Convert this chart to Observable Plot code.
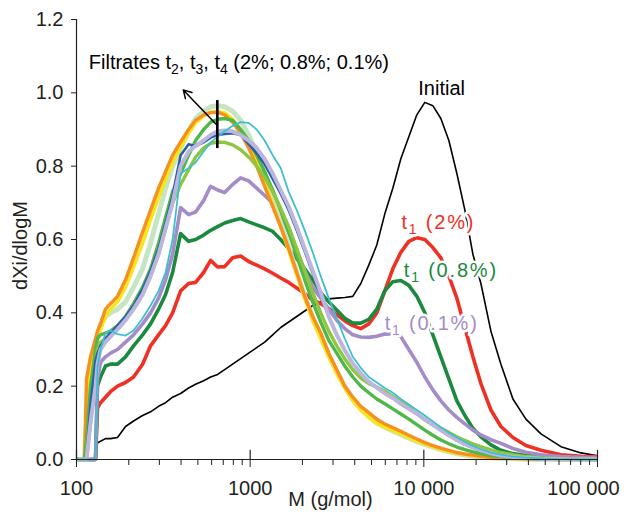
<!DOCTYPE html>
<html><head><meta charset="utf-8">
<script src="https://cdn.jsdelivr.net/npm/d3@7"></script>
<script src="https://cdn.jsdelivr.net/npm/@observablehq/plot@0.6"></script>
<style>body{margin:0;background:#fff}</style>
</head><body><div id="chart"></div>
<script>
// Sample molar masses (g/mol)
const molarMass = [100, 111.2, 114.2, 120.4, 128.7, 132.1, 137.5, 146.9, 157.0, 172.3,
  191.6, 213.1, 240.2, 267.0, 296.9, 325.8, 357.6, 397.6, 442.1, 485.2,
  539.5, 592.0, 649.5, 712.9, 792.6, 881.4, 980.3, 1090, 1212, 1348,
  1499, 1667, 1854, 2061, 2292, 2549, 2834, 3152, 3505, 3898,
  4335, 4820, 5360, 5961, 6628, 7371, 8196, 9114, 10134, 11269,
  12531, 13935, 15496, 17232, 19162, 21309, 24336, 27786, 32584, 38717,
  47249, 61604, 80347, 100000];

const initial = [0,0,0,0,0,0.045,0.05,0.057,0.057,0.06,
  0.09,0.105,0.12,0.13,0.145,0.155,0.17,0.18,0.195,0.205,
  0.215,0.225,0.232,0.245,0.26,0.275,0.29,0.305,0.32,0.34,
  0.36,0.375,0.39,0.405,0.42,0.43,0.438,0.44,0.442,0.445,
  0.48,0.53,0.585,0.67,0.74,0.82,0.88,0.94,0.974,0.965,
  0.93,0.87,0.78,0.68,0.56,0.48,0.35,0.26,0.165,0.11,
  0.07,0.035,0.018,0.01];

const t1_2 = [0,0,0,0,0,0.14,0.155,0.17,0.185,0.2,
  0.21,0.225,0.26,0.31,0.34,0.365,0.40,0.46,0.48,0.483,
  0.51,0.543,0.525,0.526,0.55,0.555,0.54,0.53,0.52,0.508,
  0.495,0.483,0.468,0.452,0.435,0.425,0.412,0.395,0.378,0.365,
  0.357,0.37,0.4,0.46,0.52,0.565,0.595,0.605,0.6,0.578,
  0.55,0.5,0.44,0.36,0.28,0.207,0.135,0.09,0.06,0.038,
  0.025,0.013,0.009,0.008];

const t1_08 = [0,0,0,0,0,0.2,0.225,0.255,0.26,0.26,
  0.28,0.31,0.34,0.37,0.41,0.45,0.51,0.616,0.595,0.6,
  0.612,0.625,0.635,0.645,0.652,0.657,0.648,0.64,0.632,0.622,
  0.6,0.575,0.548,0.52,0.49,0.455,0.43,0.408,0.385,0.372,
  0.372,0.382,0.41,0.46,0.485,0.488,0.475,0.445,0.4,0.34,
  0.28,0.22,0.16,0.12,0.085,0.062,0.04,0.025,0.016,0.011,
  0.008,0.005,0.004,0.003];

const t1_01 = [0,0,0,0,0,0.22,0.265,0.28,0.29,0.3,
  0.32,0.34,0.37,0.4,0.44,0.49,0.56,0.687,0.668,0.675,
  0.706,0.745,0.735,0.728,0.75,0.768,0.76,0.74,0.72,0.70,
  0.67,0.62,0.57,0.515,0.47,0.44,0.41,0.38,0.357,0.34,
  0.334,0.333,0.336,0.342,0.343,0.335,0.3,0.265,0.225,0.19,
  0.16,0.135,0.115,0.097,0.08,0.067,0.054,0.044,0.03,0.02,
  0.013,0.008,0.006,0.005];

const fOrange = [0,0,0.22,0.28,0.33,0.35,0.37,0.41,0.425,0.445,
  0.49,0.55,0.62,0.68,0.74,0.785,0.83,0.866,0.9,0.925,
  0.94,0.946,0.947,0.94,0.92,0.89,0.85,0.8,0.745,0.69,
  0.635,0.575,0.51,0.445,0.39,0.345,0.29,0.245,0.2,0.17,
  0.145,0.128,0.11,0.097,0.087,0.077,0.066,0.056,0.046,0.038,
  0.031,0.025,0.019,0.015,0.012,0.009,0.006,0.004,0.003,0.002,
  0.001,0,0,0];

const fYellow = [0,0,0.15,0.25,0.31,0.33,0.355,0.39,0.41,0.43,
  0.47,0.525,0.59,0.655,0.715,0.765,0.81,0.852,0.89,0.918,
  0.937,0.947,0.95,0.945,0.928,0.9,0.86,0.81,0.755,0.695,
  0.635,0.57,0.505,0.44,0.38,0.33,0.28,0.235,0.195,0.16,
  0.135,0.115,0.098,0.088,0.078,0.07,0.06,0.05,0.042,0.035,
  0.028,0.022,0.017,0.013,0.01,0.008,0.005,0.004,0.003,0.002,
  0.001,0,0,0];

const fPaleGreen = [0,0,0.1,0.2,0.3,0.34,0.37,0.39,0.4,0.41,
  0.43,0.47,0.52,0.59,0.67,0.74,0.8,0.85,0.895,0.93,
  0.95,0.962,0.965,0.962,0.95,0.925,0.885,0.835,0.775,0.71,
  0.645,0.58,0.51,0.445,0.385,0.335,0.285,0.24,0.2,0.165,
  0.138,0.118,0.1,0.088,0.078,0.068,0.058,0.049,0.041,0.034,
  0.027,0.021,0.016,0.012,0.009,0.007,0.005,0.003,0.002,0.001,
  0,0,0,0];

const fGreen = [0,0,0.05,0.2,0.3,0.33,0.34,0.345,0.35,0.365,
  0.39,0.425,0.47,0.52,0.59,0.66,0.73,0.78,0.83,0.87,
  0.9,0.92,0.928,0.93,0.925,0.9,0.87,0.83,0.785,0.735,
  0.68,0.62,0.555,0.49,0.43,0.375,0.325,0.29,0.255,0.225,
  0.2,0.182,0.165,0.152,0.138,0.124,0.11,0.095,0.08,0.066,
  0.053,0.043,0.034,0.027,0.021,0.016,0.011,0.008,0.005,0.003,
  0.002,0.001,0,0];

const fLime = [0,0,0,0.1,0.25,0.3,0.32,0.33,0.34,0.355,
  0.38,0.41,0.45,0.5,0.56,0.63,0.7,0.75,0.79,0.825,
  0.85,0.862,0.866,0.865,0.858,0.845,0.825,0.8,0.77,0.73,
  0.685,0.635,0.575,0.515,0.455,0.4,0.35,0.31,0.275,0.245,
  0.222,0.207,0.198,0.186,0.172,0.158,0.143,0.125,0.108,0.094,
  0.085,0.074,0.062,0.052,0.043,0.035,0.026,0.019,0.013,0.008,
  0.005,0.003,0.001,0];

const fLavender = [0,0,0,0.1,0.2,0.26,0.3,0.32,0.335,0.355,
  0.38,0.41,0.45,0.5,0.56,0.63,0.7,0.8,0.84,0.855,
  0.87,0.885,0.895,0.897,0.895,0.885,0.87,0.85,0.82,0.78,
  0.735,0.69,0.635,0.575,0.515,0.455,0.39,0.34,0.298,0.262,
  0.235,0.212,0.196,0.18,0.168,0.152,0.138,0.125,0.11,0.095,
  0.08,0.066,0.053,0.042,0.033,0.025,0.017,0.011,0.007,0.004,
  0.002,0.001,0,0];

const fBlue = [0,0,0,0.15,0.27,0.29,0.31,0.33,0.345,0.365,
  0.39,0.42,0.465,0.515,0.575,0.645,0.72,0.83,0.86,0.855,
  0.865,0.878,0.885,0.888,0.89,0.885,0.86,0.835,0.805,0.765,
  0.725,0.68,0.625,0.567,0.508,0.45,0.39,0.34,0.298,0.262,
  0.235,0.213,0.196,0.18,0.167,0.152,0.138,0.124,0.109,0.094,
  0.079,0.065,0.052,0.041,0.032,0.024,0.016,0.01,0.006,0.003,
  0.001,0,0,0];

const fCyan = [0,0,0,0,0,0.25,0.3,0.345,0.352,0.342,
  0.338,0.352,0.385,0.42,0.46,0.51,0.6,0.78,0.795,0.81,
  0.84,0.865,0.88,0.895,0.91,0.92,0.918,0.9,0.87,0.83,
  0.795,0.73,0.68,0.625,0.565,0.5,0.44,0.385,0.33,0.28,
  0.25,0.225,0.21,0.195,0.182,0.165,0.15,0.135,0.12,0.104,
  0.088,0.073,0.06,0.048,0.037,0.028,0.019,0.013,0.008,0.005,
  0.003,0.001,0,0];

const yTicks = [0, 0.2, 0.4, 0.6, 0.8, 1.0, 1.2];
const xMajor = [100, 1000, 10000, 100000];
const xMajorLabels = ["100", "1000", "10 000", "100 000"];
const xMinor = [200,300,400,500,600,700,800,900,2000,3000,4000,5000,6000,7000,8000,9000,
  20000,30000,40000,50000,60000,70000,80000,90000];

const series = [
  {values: initial, color: "#000000", width: 1.6},
  {values: t1_2, color: "#ee3124", width: 3.6},
  {values: t1_08, color: "#1b8a3f", width: 3.6},
  {values: t1_01, color: "#a48cc8", width: 3.6},
  {values: fPaleGreen, color: "#c6e5c2", width: 5},
  {values: fYellow, color: "#f6e61c", width: 3.6},
  {values: fOrange, color: "#f7901e", width: 3.4},
  {values: fGreen, color: "#4fb848", width: 3.4},
  {values: fLime, color: "#8dc63f", width: 3.4},
  {values: fBlue, color: "#2e5ea8", width: 2.6},
  {values: fLavender, color: "#bcb6de", width: 4},
  {values: fCyan, color: "#3ebfd0", width: 1.8}
];

const ink = "#231f20";
const font = "'Liberation Sans', Arial, Helvetica, sans-serif";

const lineMarks = series.map(s => Plot.line(
  molarMass.map((m, i) => ({M: m, v: s.values[i]})),
  {x: "M", y: "v", stroke: s.color, strokeWidth: s.width, strokeLinejoin: "round", strokeLinecap: "butt"}
));

const svg = Plot.plot({
  width: 624, height: 513,
  marginLeft: 76, marginRight: 27, marginTop: 19, marginBottom: 54,
  x: {type: "log", domain: [100, 100000]},
  y: {domain: [0, 1.2]},
  style: {fontFamily: font, fontSize: "20px", color: ink, background: "#fff", overflow: "visible"},
  marks: [
    ...lineMarks,
    Plot.ruleY([0], {stroke: ink, strokeWidth: 1.2}),
    Plot.ruleX([100], {y1: 0, y2: 1.2, stroke: ink, strokeWidth: 1.2}),
    Plot.ruleX(xMajor, {y1: 0, y2: 0.025, stroke: ink, strokeWidth: 1.2}),
    Plot.axisY({ticks: yTicks, tickFormat: d => d.toFixed(1), tickSize: 5, tickPadding: 8, fontSize: 20, label: null, stroke: ink}),
    Plot.axisX({ticks: xMajor, tickFormat: d => xMajorLabels[xMajor.indexOf(d)], tickSize: 8, tickPadding: 13, fontSize: 20, label: null, stroke: ink}),
    Plot.axisX({ticks: xMinor, tickFormat: () => "", tickSize: 6, label: null, stroke: ink}),
    Plot.text(["dXi/dlogM"], {x: 47.5, y: 0.5836, text: d => d, rotate: -90, fontSize: 20, fill: ink}),
    Plot.text(["M (g/mol)"], {x: 2901, y: -0.108, text: d => d, fontSize: 20, fill: ink}),
    Plot.text(["Filtrates t2, t3, t4 (2%; 0.8%; 0.1%)"], {x: 117.7, y: 1.0837, text: d => d, textAnchor: "start", fontSize: 20, fill: "#000"}),
    Plot.text(["Initial"], {x: 12665, y: 1.0104, text: d => d, fontSize: 20, fill: "#000"}),
    Plot.text(["t1 (2%)"], {x: 12122, y: 0.647, text: d => d, fontSize: 20, fill: "#ee3124", stroke: "white", strokeWidth: 5}),
    Plot.text(["t1 (0.8%)"], {x: 14307, y: 0.5165, text: d => d, fontSize: 20, fill: "#1b8a3f", stroke: "white", strokeWidth: 5}),
    Plot.text(["t1 (0.1%)"], {x: 11092, y: 0.371, text: d => d, fontSize: 20, fill: "#a48cc8", stroke: "white", strokeWidth: 5}),
    Plot.ruleX([647], {y1: 0.848, y2: 0.979, stroke: "#000", strokeWidth: 2.6}),
    Plot.arrow([0], {x1: 647, y1: 0.911, x2: 412, y2: 1.008, stroke: "#000", strokeWidth: 1.5, headLength: 9})
  ]
});

const NS = "http://www.w3.org/2000/svg";
svg.querySelectorAll("text").forEach(el => {
  const s = el.textContent;
  if (s === "100 000") el.setAttribute("dx", "-14");
  if (/t\d/.test(s)) {
    const parts = s.split(/(?<=t)(\d)/);
    while (el.firstChild) el.removeChild(el.firstChild);
    parts.forEach((p, i) => {
      const ts = document.createElementNS(NS, "tspan");
      ts.textContent = p;
      if (i % 2 === 1) { ts.setAttribute("dy", "5"); ts.setAttribute("font-size", "14"); }
      else if (i > 0) ts.setAttribute("dy", "-5");
      el.appendChild(ts);
    });
    if (s.startsWith("t1")) el.style.letterSpacing = "1.8px";
  }
});

document.getElementById("chart").appendChild(svg);
</script>
</body></html>
